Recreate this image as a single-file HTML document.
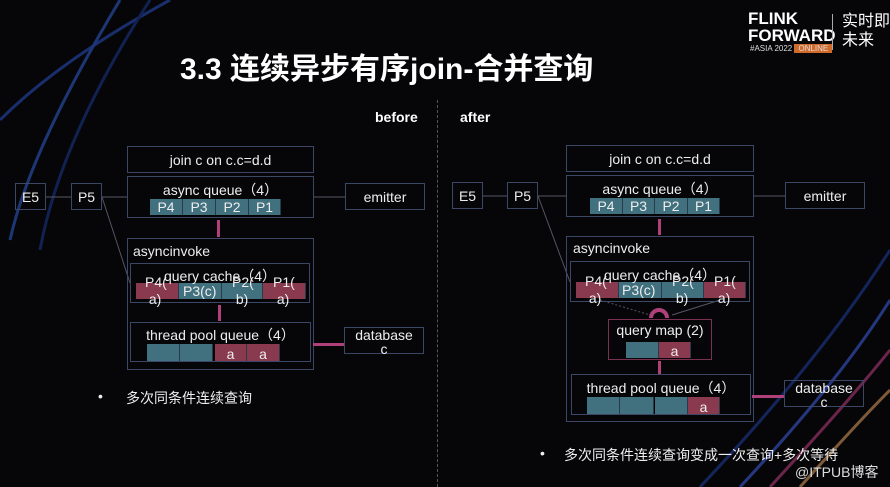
<!DOCTYPE html>
<html><head><meta charset="utf-8"><style>
html,body{margin:0;width:890px;height:487px;background:#060608;overflow:hidden}
body{position:relative;font-family:"Liberation Sans","Noto Sans CJK SC",sans-serif;color:#eee}
.a{position:absolute;box-sizing:border-box}
.b{border:1px solid #3c4666}
.t{font-size:14px;text-align:center;white-space:nowrap}
.c{position:absolute;box-sizing:border-box;font-size:14px;color:#eee;text-align:center;border-right:1px solid #2a3a48}
.tl{background:#41707e}.rd{background:#8a3a4e}
.pk{position:absolute;background:#b0407a}
</style></head><body>
<svg class="a" style="left:0;top:0" width="890" height="487">
<g fill="none" stroke-width="3" opacity=".55">
<path d="M0 120 Q60 60 170 0" stroke="#2a50c0"/><path d="M10 240 Q30 150 120 0" stroke="#3060d0"/><path d="M40 250 Q60 140 150 0" stroke="#1a3a90"/>
<path d="M740 487 Q840 380 890 300" stroke="#4060e0"/><path d="M770 487 Q850 400 890 350" stroke="#c04080"/><path d="M800 487 Q860 420 890 390" stroke="#e0a060"/><path d="M700 487 Q820 360 890 250" stroke="#2040a0"/>
</g>
<g stroke="#556" stroke-width="1" fill="none">
<line x1="46" y1="197" x2="71" y2="197"/><line x1="102" y1="197" x2="127" y2="197"/><line x1="314" y1="197" x2="345" y2="197"/><line x1="102" y1="197" x2="130" y2="283"/>
<line x1="483" y1="196" x2="507" y2="196"/><line x1="538" y1="196" x2="566" y2="196"/><line x1="754" y1="196" x2="785" y2="196"/><line x1="538" y1="196" x2="570" y2="282"/>
<line x1="600" y1="300" x2="650" y2="315" stroke-dasharray="2 2"/><line x1="720" y1="300" x2="672" y2="315"/></g>
<path d="M651 318 A8 8 0 0 1 667 318" stroke="#b0407a" stroke-width="4" fill="none"/></svg>
<div class="a" style="left:180px;top:44px;font-size:30px;font-weight:bold;color:#fff;white-space:nowrap">3.3 连续异步有序join-合并查询</div>
<div class="a" style="left:748px;top:10px;font-size:17px;font-weight:bold;line-height:17px;color:#fff">FLINK<br>FORWARD</div>
<div class="a" style="left:750px;top:44px;font-size:8px;color:#ddd">#ASIA 2022 <span style="background:#d06a2a;padding:0 4px">ONLINE</span></div>
<div class="a" style="left:832px;top:14px;width:1px;height:36px;background:#aaa"></div>
<div class="a" style="left:842px;top:12px;font-size:16px;line-height:19px;color:#fff">实时即<br>未来</div>
<div class="a" style="left:375px;top:109px;font-size:14px;font-weight:bold;color:#fff">before</div>
<div class="a" style="left:460px;top:109px;font-size:14px;font-weight:bold;color:#fff">after</div>
<div class="a" style="left:437px;top:100px;height:387px;border-left:1px dashed #555"></div>

<!-- LEFT -->
<div class="a b t" style="left:127px;top:146px;width:187px;height:27px;line-height:27px">join c on c.c=d.d</div>
<div class="a b" style="left:127px;top:176px;width:187px;height:42px"></div>
<div class="a t" style="left:127px;top:180px;width:187px">async queue（4）</div>
<div class="c tl" style="left:150px;top:199px;width:33px;height:16px;line-height:16px">P4</div><div class="c tl" style="left:183px;top:199px;width:33px;height:16px;line-height:16px">P3</div><div class="c tl" style="left:216px;top:199px;width:33px;height:16px;line-height:16px">P2</div><div class="c tl" style="left:249px;top:199px;width:32px;height:16px;line-height:16px">P1</div>
<div class="a b t" style="left:15px;top:183px;width:31px;height:27px;line-height:27px">E5</div>
<div class="a b t" style="left:71px;top:183px;width:31px;height:27px;line-height:27px">P5</div>
<div class="a b t" style="left:345px;top:183px;width:80px;height:27px;line-height:27px">emitter</div>
<div class="pk" style="left:217px;top:220px;width:3px;height:17px"></div>
<div class="a b" style="left:127px;top:238px;width:187px;height:132px"></div>
<div class="a t" style="left:133px;top:243px">asyncinvoke</div>
<div class="a b" style="left:130px;top:263px;width:180px;height:40px"></div>
<div class="c rd" style="left:136px;top:283px;width:43px;height:16px"></div><div class="c tl" style="left:179px;top:283px;width:43px;height:16px"></div><div class="c tl" style="left:222px;top:283px;width:41px;height:16px"></div><div class="c rd" style="left:263px;top:283px;width:43px;height:16px"></div>
<div class="a t" style="left:130px;top:266px;width:180px">query cache（4）</div>
<div class="a t" style="left:145px;top:274px;line-height:17px;text-align:left">P4(<br>&nbsp;a)</div><div class="a t" style="left:183px;top:283px">P3(c)</div><div class="a t" style="left:232px;top:274px;line-height:17px;text-align:left">P2(<br>&nbsp;b)</div><div class="a t" style="left:273px;top:274px;line-height:17px;text-align:left">P1(<br>&nbsp;a)</div>
<div class="pk" style="left:218px;top:305px;width:3px;height:16px"></div>
<div class="a b" style="left:130px;top:322px;width:181px;height:40px"></div>
<div class="a t" style="left:130px;top:325px;width:181px">thread pool queue（4）</div>
<div class="c tl" style="left:147px;top:344px;width:33px;height:17px"></div><div class="c tl" style="left:180px;top:344px;width:33px;height:17px"></div><div class="c rd" style="left:215px;top:344px;width:32px;height:17px;line-height:21px">a</div><div class="c rd" style="left:247px;top:344px;width:33px;height:17px;line-height:21px">a</div>
<div class="pk" style="left:313px;top:343px;width:31px;height:3px"></div>
<div class="a b t" style="left:344px;top:327px;width:80px;height:27px;line-height:14px">database<br>c</div>
<div class="a" style="left:98px;top:388px;font-size:14px">•</div>
<div class="a" style="left:126px;top:388px;font-size:14px">多次同条件连续查询</div>

<!-- RIGHT -->
<div class="a b t" style="left:566px;top:145px;width:188px;height:27px;line-height:27px">join c on c.c=d.d</div>
<div class="a b" style="left:566px;top:175px;width:188px;height:42px"></div>
<div class="a t" style="left:566px;top:179px;width:188px">async queue（4）</div>
<div class="c tl" style="left:590px;top:198px;width:33px;height:16px;line-height:16px">P4</div><div class="c tl" style="left:623px;top:198px;width:32px;height:16px;line-height:16px">P3</div><div class="c tl" style="left:655px;top:198px;width:33px;height:16px;line-height:16px">P2</div><div class="c tl" style="left:688px;top:198px;width:32px;height:16px;line-height:16px">P1</div>
<div class="a b t" style="left:452px;top:182px;width:31px;height:27px;line-height:27px">E5</div>
<div class="a b t" style="left:507px;top:182px;width:31px;height:27px;line-height:27px">P5</div>
<div class="a b t" style="left:785px;top:182px;width:80px;height:27px;line-height:27px">emitter</div>
<div class="pk" style="left:658px;top:219px;width:3px;height:16px"></div>
<div class="a b" style="left:566px;top:236px;width:188px;height:186px"></div>
<div class="a t" style="left:573px;top:240px">asyncinvoke</div>
<div class="a b" style="left:570px;top:261px;width:180px;height:41px"></div>
<div class="c rd" style="left:576px;top:282px;width:43px;height:16px"></div><div class="c tl" style="left:619px;top:282px;width:43px;height:16px"></div><div class="c tl" style="left:662px;top:282px;width:42px;height:16px"></div><div class="c rd" style="left:704px;top:282px;width:42px;height:16px"></div>
<div class="a t" style="left:570px;top:265px;width:180px">query cache（4）</div>
<div class="a t" style="left:585px;top:273px;line-height:17px;text-align:left">P4(<br>&nbsp;a)</div><div class="a t" style="left:622px;top:282px">P3(c)</div><div class="a t" style="left:672px;top:273px;line-height:17px;text-align:left">P2(<br>&nbsp;b)</div><div class="a t" style="left:714px;top:273px;line-height:17px;text-align:left">P1(<br>&nbsp;a)</div>
<div class="a" style="left:608px;top:319px;width:104px;height:41px;border:1px solid #7a3050"></div>
<div class="a t" style="left:608px;top:322px;width:104px">query map (2)</div>
<div class="c tl" style="left:626px;top:342px;width:33px;height:16px"></div><div class="c rd" style="left:659px;top:342px;width:32px;height:16px;line-height:19px">a</div>
<div class="pk" style="left:658px;top:361px;width:3px;height:13px"></div>
<div class="a b" style="left:571px;top:374px;width:180px;height:41px"></div>
<div class="a t" style="left:571px;top:378px;width:180px">thread pool queue（4）</div>
<div class="c tl" style="left:587px;top:397px;width:33px;height:17px"></div><div class="c tl" style="left:620px;top:397px;width:34px;height:17px"></div><div class="c tl" style="left:655px;top:397px;width:33px;height:17px"></div><div class="c rd" style="left:688px;top:397px;width:32px;height:17px;line-height:21px">a</div>
<div class="pk" style="left:752px;top:395px;width:32px;height:3px"></div>
<div class="a b t" style="left:784px;top:380px;width:80px;height:27px;line-height:14px">database<br>c</div>
<div class="a" style="left:540px;top:445px;font-size:14px">•</div>
<div class="a" style="left:564px;top:445px;font-size:14px;white-space:nowrap">多次同条件连续查询变成一次查询+多次等待</div>
<div class="a" style="left:795px;top:462px;font-size:14px;color:#ddd">@ITPUB博客</div>
</body></html>
